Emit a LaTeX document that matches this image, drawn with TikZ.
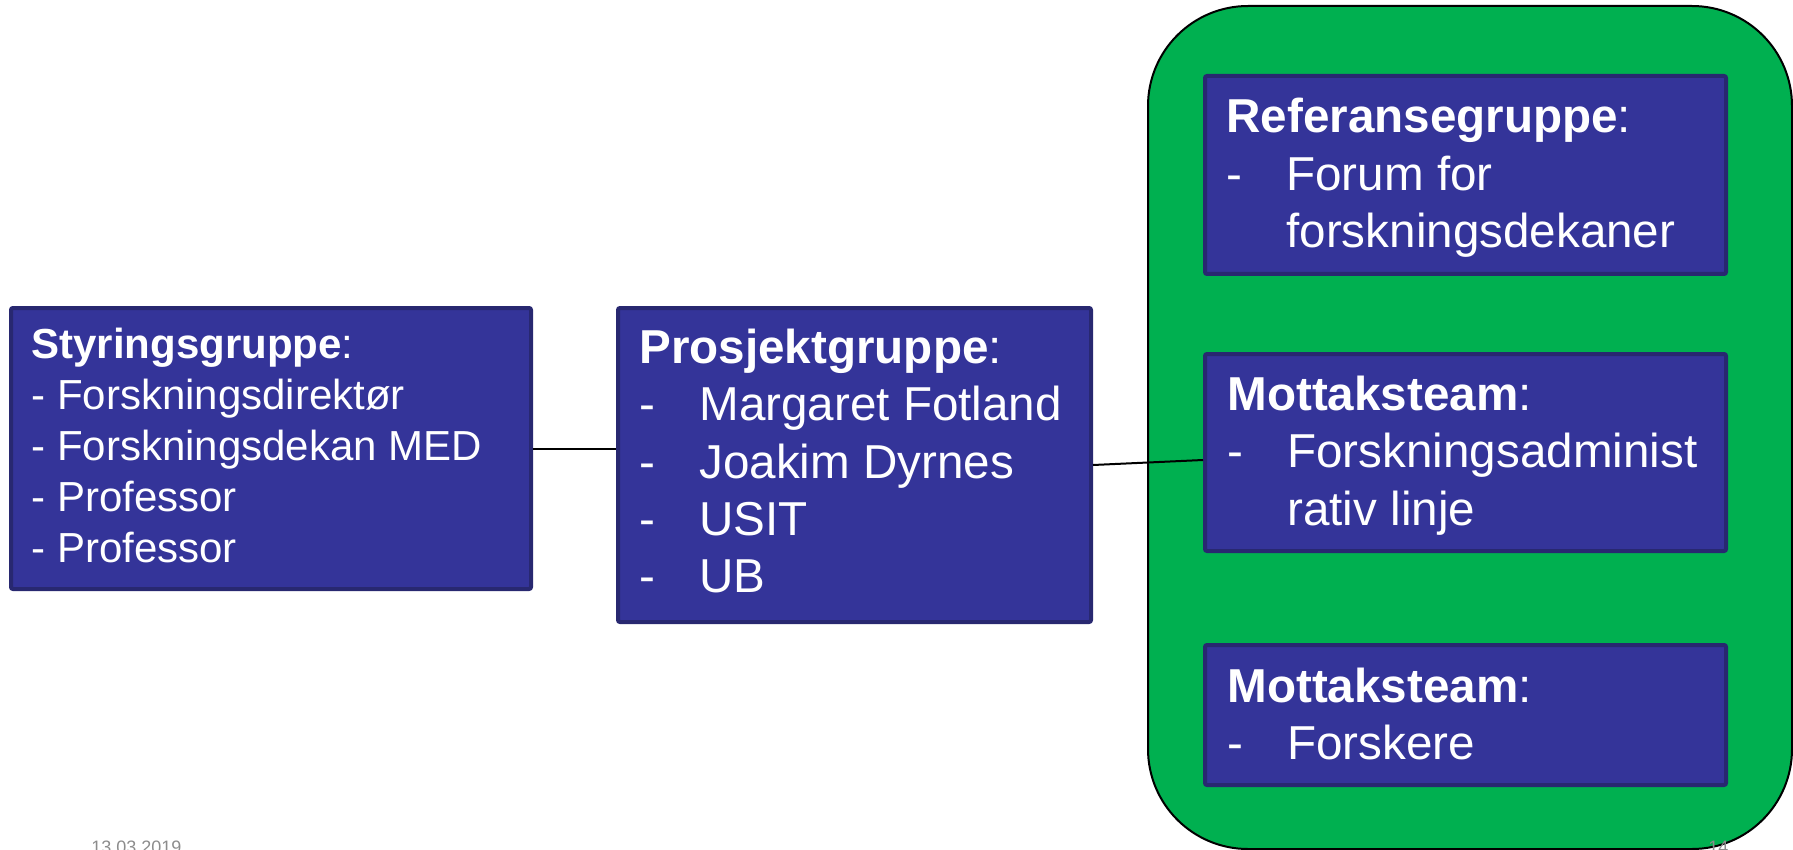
\documentclass[tikz,border=0pt]{standalone}
\usepackage{fontspec}
\setmainfont{Liberation Sans}
\definecolor{boxfill}{RGB}{52,52,153}
\definecolor{boxline}{RGB}{40,40,112}
\definecolor{panelgreen}{RGB}{0,176,80}
\definecolor{footgray}{RGB}{140,140,140}
\tikzset{
  grp/.style={draw=boxline, fill=boxfill, line width=2pt, rounded corners=1pt, inner sep=0pt, anchor=north west},
  panelbox/.style={draw=black, fill=panelgreen, line width=1pt, rounded corners=50pt, inner sep=0pt, anchor=north west},
  txt/.style={anchor=base west, inner sep=0pt, text=white},
  link/.style={draw=black, line width=1pt},
  foot/.style={anchor=base west, inner sep=0pt, text=footgray, font=\fontsize{9pt}{10pt}\selectfont}
}
\newcommand{\smallset}{\fontsize{21pt}{25.6pt}\selectfont}
\newcommand{\bigset}{\fontsize{23.8pt}{28.75pt}\selectfont}
\newcommand{\dashitem}[1]{\makebox[30pt][l]{-}#1}
\newcommand{\contitem}[1]{\hspace*{30pt}#1}
\newcommand{\boxtext}[2]{\begin{minipage}[t]{300pt}\raggedright#1#2\end{minipage}}
\begin{document}
\begin{tikzpicture}[x=0.5pt,y=-0.5pt]
\useasboundingbox (0,0) rectangle (1793,850);
% green panel
\node[panelbox, minimum width=322pt, minimum height=421.5pt] (panel) at (1147,5) {};
% boxes
\node[grp, minimum width=260pt, minimum height=140.5pt] (S) at (9,306) {};
\node[grp, minimum width=236.5pt, minimum height=157pt] (P) at (616,306) {};
\node[grp, minimum width=260.5pt, minimum height=99pt] (R) at (1203,74) {};
\node[grp, minimum width=260.5pt, minimum height=98.5pt] (M1) at (1203,352) {};
\node[grp, minimum width=260.5pt, minimum height=70pt] (M2) at (1203,643) {};
% connectors
\draw[link] (S.east) -- (S.east -| P.west);
\draw[link] (P.east) -- ([yshift=-3.75pt]M1.west);
% texts
\node[txt] (St) at (31,358) {\boxtext{\smallset}{\textbf{Styringsgruppe}:\\
- Forskningsdirektør\\
- Forskningsdekan MED\\
- Professor\\
- Professor}};
\node[txt] (Pt) at (639,363) {\boxtext{\bigset}{\textbf{Prosjektgruppe}:\\
\dashitem{Margaret Fotland}\\
\dashitem{Joakim Dyrnes}\\
\dashitem{USIT}\\
\dashitem{UB}}};
\node[txt] (Rt) at (1226,133) {\boxtext{\bigset}{\textbf{Referansegruppe}:\\
\dashitem{Forum for}\\
\contitem{forskningsdekaner}}};
\node[txt] (M1t) at (1227,410) {\boxtext{\bigset}{\textbf{Mottaksteam}:\\
\dashitem{Forskningsadminist}\\
\contitem{rativ linje}}};
\node[txt] (M2t) at (1227,702) {\boxtext{\bigset}{\textbf{Mottaksteam}:\\
\dashitem{Forskere}}};
% footer
\node[foot] (date) at (91,853) {13.03.2019};
\node[foot] (page) at (1708,853) {14};
\end{tikzpicture}
\end{document}
